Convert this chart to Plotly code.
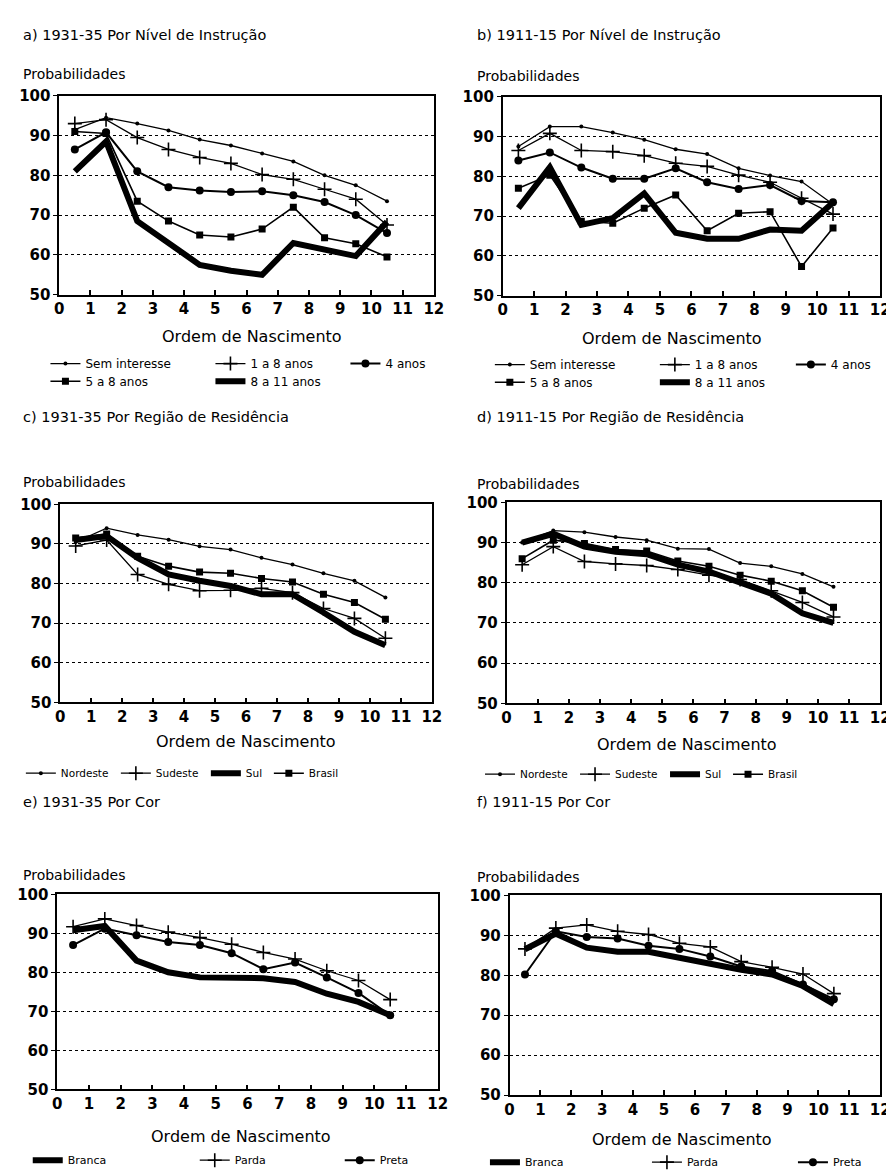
import plotly.graph_objects as go

W, H = 894, 1173

# ---------------- data ----------------
birth_order = [0.5, 1.5, 2.5, 3.5, 4.5, 5.5, 6.5, 7.5, 8.5, 9.5, 10.5]
x_tick_vals = list(range(0, 13))
y_tick_vals = [50, 60, 70, 80, 90, 100]

# a) 1931-35 by education
a_sem_instrucao = [91.5, 94.5, 93.0, 91.3, 89.0, 87.5, 85.5, 83.5, 80.0, 77.5, 73.5]
a_1a8 = [93.0, 94.0, 89.5, 86.5, 84.5, 83.0, 80.2, 79.0, 76.5, 74.0, 67.5]
a_4 = [86.5, 90.8, 81.0, 77.0, 76.2, 75.8, 76.0, 75.0, 73.3, 70.0, 65.5]
a_5a8 = [91.0, 90.5, 73.5, 68.5, 65.0, 64.5, 66.5, 72.0, 64.3, 62.8, 59.5]
a_8a11 = [81.0, 88.5, 68.5, 63.0, 57.5, 56.0, 55.0, 63.0, 61.2, 59.7, 68.3]

# b) 1911-15 by education
b_sem_instrucao = [87.5, 92.5, 92.5, 91.0, 89.2, 86.8, 85.6, 82.0, 80.2, 78.7, 73.0]
b_1a8 = [86.5, 90.8, 86.5, 86.2, 85.2, 83.3, 82.5, 80.3, 78.5, 74.5, 70.5]
b_4 = [84.0, 86.0, 82.2, 79.4, 79.4, 82.0, 78.5, 76.8, 77.8, 73.8, 73.5]
b_5a8 = [77.0, 80.3, 68.7, 68.2, 72.0, 75.3, 66.3, 70.7, 71.1, 57.3, 67.0]
b_8a11 = [72.0, 82.3, 67.8, 69.5, 75.7, 65.8, 64.3, 64.3, 66.6, 66.3, 73.4]

# c) 1931-35 by region
c_nordeste = [90.5, 94.0, 92.3, 91.1, 89.4, 88.6, 86.5, 84.8, 82.6, 80.7, 76.5]
c_sudeste = [89.5, 91.0, 82.3, 79.8, 78.2, 78.3, 78.8, 77.7, 73.7, 71.2, 66.2]
c_sul = [91.0, 92.0, 86.5, 82.3, 80.7, 79.4, 77.3, 77.3, 72.7, 67.8, 64.4]
c_brasil = [91.5, 92.5, 86.9, 84.4, 82.9, 82.6, 81.3, 80.4, 77.3, 75.2, 71.0]

# d) 1911-15 by region
d_nordeste = [90.0, 93.0, 92.6, 91.4, 90.6, 88.5, 88.4, 84.9, 84.1, 82.2, 79.0]
d_sudeste = [84.5, 89.0, 85.3, 84.7, 84.3, 83.3, 81.9, 80.8, 78.0, 75.1, 71.5]
d_sul = [90.0, 92.2, 89.0, 87.7, 87.1, 84.5, 82.8, 80.0, 77.3, 72.4, 70.0]
d_brasil = [86.0, 90.6, 89.8, 88.3, 87.9, 85.4, 84.1, 81.9, 80.4, 78.0, 73.9]

# e) 1931-35 by colour
e_branca = [90.8, 91.9, 83.0, 80.0, 78.7, 78.6, 78.5, 77.5, 74.5, 72.4, 69.0]
e_parda = [91.7, 93.7, 92.0, 90.3, 88.9, 87.2, 85.1, 83.4, 80.4, 77.9, 73.0]
e_preta = [87.0, 91.2, 89.5, 87.8, 87.0, 84.9, 80.8, 82.5, 78.7, 74.7, 69.0]

# f) 1911-15 by colour
f_branca = [86.5, 90.4, 86.9, 85.9, 85.9, 84.3, 83.0, 81.4, 80.2, 77.3, 72.8]
f_parda = [86.6, 91.8, 92.6, 91.0, 90.2, 88.0, 87.1, 83.4, 82.0, 80.3, 75.4]
f_preta = [80.2, 91.0, 89.6, 89.2, 87.4, 86.6, 84.7, 82.2, 81.1, 77.7, 74.0]

# ---------------- styling ----------------
FONT = "DejaVu Sans"
STYLES = {
    "dot": dict(mode="lines+markers", line=dict(color="black", width=1.3),
                marker=dict(symbol="circle", size=4, color="black")),
    "plus": dict(mode="lines+markers", line=dict(color="black", width=1.3),
                 marker=dict(symbol="cross-thin", size=10, color="black",
                             line=dict(width=1.6, color="black"))),
    "circle": dict(mode="lines+markers", line=dict(color="black", width=2),
                   marker=dict(symbol="circle", size=8, color="black")),
    "square": dict(mode="lines+markers", line=dict(color="black", width=1.6),
                   marker=dict(symbol="square", size=7, color="black")),
    "thick": dict(mode="lines", line=dict(color="black", width=6)),
}

# panel boxes in pixels: left, right, top, bottom
panels = [
    dict(key="a", box=(47, 428, 80, 282),
         title="a) 1931-35 Por Nível de Instrução", title_pos=(8, 18), prob_pos=(8, 58), ordem_pos=(243, 324),
         series=[("Sem interesse", a_sem_instrucao, "dot", "legend", 120),
                 ("1 a 8 anos", a_1a8, "plus", "legend", 90),
                 ("4 anos", a_4, "circle", "legend", None),
                 ("5 a 8 anos", a_5a8, "square", "legend2", 120),
                 ("8 a 11 anos", a_8a11, "thick", "legend2", None)]),
    dict(key="b", box=(498, 882, 81, 283),
         title="b) 1911-15 Por Nível de Instrução", title_pos=(470, 18), prob_pos=(470, 60), ordem_pos=(670, 327),
         series=[("Sem interesse", b_sem_instrucao, "dot", "legend3", 120),
                 ("1 a 8 anos", b_1a8, "plus", "legend3", 91),
                 ("4 anos", b_4, "circle", "legend3", None),
                 ("5 a 8 anos", b_5a8, "square", "legend4", 120),
                 ("8 a 11 anos", b_8a11, "thick", "legend4", None)]),
    dict(key="c", box=(48, 426, 495, 696),
         title="c) 1931-35 Por Região de Residência", title_pos=(8, 406), prob_pos=(8, 472), ordem_pos=(237, 736),
         series=[("Nordeste", c_nordeste, "dot", "legend5", 50),
                 ("Sudeste", c_sudeste, "plus", "legend5", 45),
                 ("Sul", c_sul, "thick", "legend5", 18),
                 ("Brasil", c_brasil, "square", "legend5", None)]),
    dict(key="d", box=(502, 882, 493, 697),
         title="d) 1911-15 Por Região de Residência", title_pos=(470, 406), prob_pos=(470, 474), ordem_pos=(685, 739),
         series=[("Nordeste", d_nordeste, "dot", "legend6", 50),
                 ("Sudeste", d_sudeste, "plus", "legend6", 45),
                 ("Sul", d_sul, "thick", "legend6", 18),
                 ("Brasil", d_brasil, "square", "legend6", None)]),
    dict(key="e", box=(45, 432, 891, 1089),
         title="e) 1931-35 Por Cor", title_pos=(8, 797), prob_pos=(8, 871), ordem_pos=(232, 1137),
         series=[("Branca", e_branca, "thick", "legend7", 122),
                 ("Parda", e_parda, "plus", "legend7", 100),
                 ("Preta", e_preta, "circle", "legend7", None)]),
    dict(key="f", box=(505, 882, 892, 1095),
         title="f) 1911-15 Por Cor", title_pos=(470, 797), prob_pos=(470, 873), ordem_pos=(680, 1140),
         series=[("Branca", f_branca, "thick", "legend8", 117),
                 ("Parda", f_parda, "plus", "legend8", 101),
                 ("Preta", f_preta, "circle", "legend8", None)]),
]

# legend rows: name -> (text start x px, centre y px, font size)
legend_rows = {
    "legend": (83, 352, 12), "legend2": (83, 370, 12),
    "legend3": (535, 353, 12), "legend4": (535, 371, 12),
    "legend5": (58, 768, 10.5), "legend6": (525, 769, 10.5),
    "legend7": (65, 1161, 11), "legend8": (530, 1163, 11),
}

fig = go.Figure()
layout = dict(width=W, height=H, margin=dict(l=0, r=0, t=0, b=0),
              paper_bgcolor="white", plot_bgcolor="white",
              font=dict(family=FONT, color="black"), showlegend=True)
annotations = []
TICKFONT = dict(family=FONT, size=15, color="black", weight="bold")

for i, p in enumerate(panels, start=1):
    l, r, t, b = p["box"]
    xa = "xaxis" if i == 1 else f"xaxis{i}"
    ya = "yaxis" if i == 1 else f"yaxis{i}"
    xref = "x" if i == 1 else f"x{i}"
    yref = "y" if i == 1 else f"y{i}"
    layout[xa] = dict(domain=[l / W, r / W], anchor=yref, range=[0, 12],
                      tickmode="array", tickvals=x_tick_vals,
                      ticks="inside", ticklen=5, tickwidth=1.5, tickcolor="black",
                      showline=True, linecolor="black", linewidth=1.5, mirror=True,
                      showgrid=False, zeroline=False, tickfont=TICKFONT)
    layout[ya] = dict(domain=[1 - b / H, 1 - t / H], anchor=xref, range=[50, 100],
                      tickmode="array", tickvals=y_tick_vals,
                      ticks="outside", ticklen=4, tickwidth=1.2, tickcolor="black",
                      showline=True, linecolor="black", linewidth=1.5, mirror=True,
                      showgrid=True, gridcolor="black", gridwidth=1, griddash="dot",
                      zeroline=False, tickfont=TICKFONT)
    for name, vals, style, leg, lw in p["series"]:
        kw = dict(STYLES[style])
        tr = go.Scatter(x=birth_order, y=vals, name=name, xaxis=xref, yaxis=yref,
                        legend=leg, **kw)
        if lw is not None:
            tr.legendwidth = lw
        fig.add_trace(tr)
    tx, ty = p["title_pos"]
    annotations.append(dict(text=p["title"], x=tx / W, y=1 - ty / H, xref="paper", yref="paper",
                            xanchor="left", yanchor="middle", showarrow=False,
                            font=dict(family=FONT, size=14.5, color="black")))
    px_, py_ = p["prob_pos"]
    annotations.append(dict(text="Probabilidades", x=px_ / W, y=1 - py_ / H, xref="paper", yref="paper",
                            xanchor="left", yanchor="middle", showarrow=False,
                            font=dict(family=FONT, size=14, color="black")))
    ox, oy = p["ordem_pos"]
    annotations.append(dict(text="Ordem de Nascimento", x=ox / W, y=1 - oy / H, xref="paper", yref="paper",
                            xanchor="center", yanchor="middle", showarrow=False,
                            font=dict(family=FONT, size=16, color="black")))

for lname, (lx, ly, fs) in legend_rows.items():
    layout[lname] = dict(x=(lx - 50) / W, y=1 - ly / H, xanchor="left", yanchor="middle",
                         orientation="h", bgcolor="rgba(0,0,0,0)", borderwidth=0,
                         font=dict(family=FONT, size=fs, color="black"),
                         itemwidth=30, traceorder="normal", tracegroupgap=0)

layout["annotations"] = annotations
fig.update_layout(**layout)
fig.write_html("out.html")
